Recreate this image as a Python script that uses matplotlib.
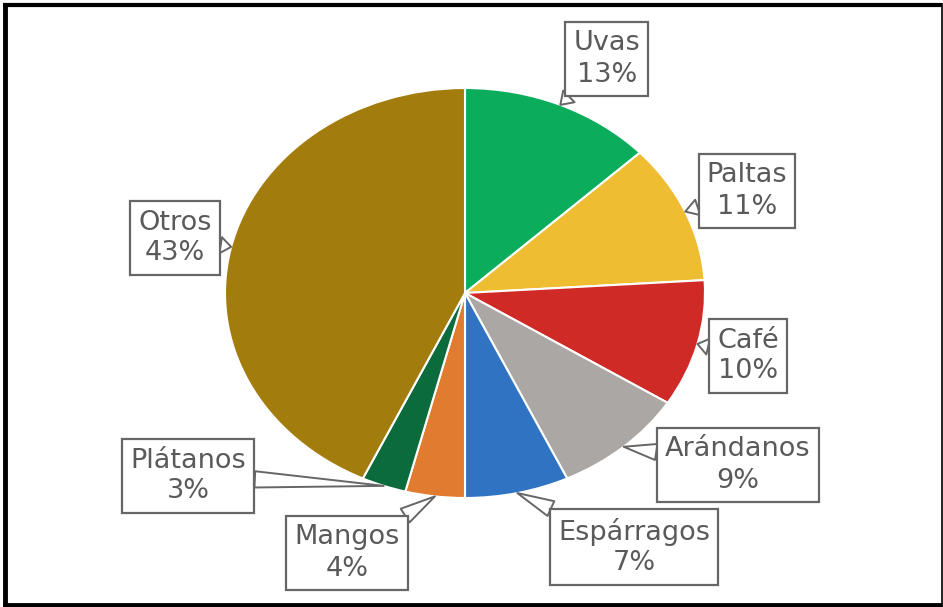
import matplotlib.pyplot as plt
import numpy as np
from matplotlib.lines import Line2D

# export share by product (%)
labels = ['Uvas', 'Paltas', 'Café', 'Arándanos', 'Espárragos', 'Mangos', 'Plátanos', 'Otros']
shares = [13, 11, 10, 9, 7, 4, 3, 43]
colors = ['#0bad5c', '#efbd32', '#d02a27', '#aba7a5', '#2f73c2', '#e07b2f', '#0c6b3d', '#a37c0e']

W, H = 943, 607
fig = plt.figure(figsize=(W / 100, H / 100), dpi=100)
ax = fig.add_axes([0, 0, 1, 1])

# pie centre and radii in pixels (the pie is stretched horizontally)
cx, cy, rx, ry = 465, 293, 240, 205
ax.pie(shares, colors=colors, startangle=90, counterclock=False, radius=1,
       wedgeprops=dict(edgecolor='white', linewidth=1.5))
ax.set_aspect('auto')
ax.set_xlim(-cx / rx, (W - cx) / rx)
ax.set_ylim(-(H - cy) / ry, cy / ry)
ax.axis('off')

# callout box centres (pixels from top-left)
box_pos = {
    'Uvas': (607, 59), 'Paltas': (747, 191), 'Café': (748, 356),
    'Arándanos': (738, 465), 'Espárragos': (634, 547), 'Mangos': (347, 553),
    'Plátanos': (188, 476), 'Otros': (175, 238),
}
# pointer angle override where the callout doesn't point at the wedge middle
tip_angle = {'Otros': 167}

cum = np.cumsum([0] + shares)
for lab, s, c0 in zip(labels, shares, cum[:-1]):
    mid = 90 - 360 * (c0 + s / 2) / 100
    ang = np.radians(tip_angle.get(lab, mid))
    tip = (np.cos(ang), np.sin(ang))
    bx, by = box_pos[lab]
    tx = (bx - cx) / rx
    ty = (cy - by) / ry
    ax.annotate(f'{lab}\n{s}%', xy=tip, xytext=(tx, ty),
                ha='center', va='center', fontsize=19.5, color='#5a5a5a',
                linespacing=1.25, annotation_clip=False,
                bbox=dict(boxstyle='square,pad=0.3', fc='white', ec='#666666', lw=1.6),
                arrowprops=dict(arrowstyle='wedge,tail_width=0.6,shrink_factor=0.5',
                                fc='white', ec='#666666', lw=1.4,
                                shrinkA=0, shrinkB=0))

# outer frame
frame = dict(color='black', transform=fig.transFigure, solid_capstyle='butt')
fig.add_artist(Line2D([5 / W, 5 / W], [0, 1 - 3 / H], lw=3.5, **frame))
fig.add_artist(Line2D([3 / W, 942 / W], [1 - 5 / H, 1 - 5 / H], lw=3, **frame))
fig.add_artist(Line2D([3 / W, 942 / W], [2.5 / H, 2.5 / H], lw=3.5, **frame))
fig.add_artist(Line2D([941.5 / W, 941.5 / W], [0, 1 - 3 / H], lw=1.2, **frame))

plt.savefig('out.png', dpi=100)
